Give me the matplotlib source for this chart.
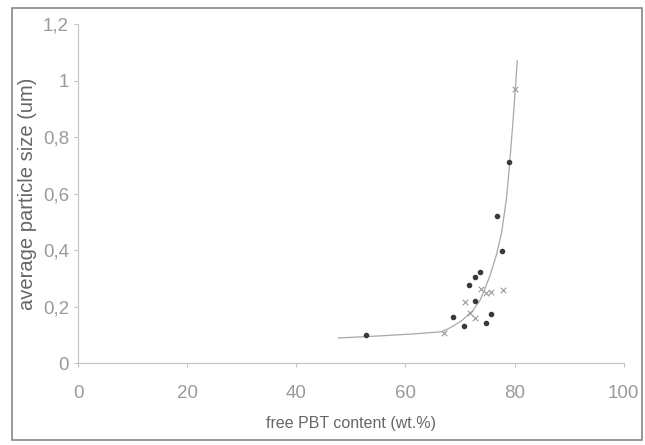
import numpy as np
import matplotlib.pyplot as plt
from matplotlib.patches import Rectangle
from matplotlib.ticker import FuncFormatter

plt.rcParams['font.family'] = ['Liberation Sans', 'DejaVu Sans']

# filled dots
dot_x = [52.7, 68.8, 70.8, 71.7, 72.8, 73.7, 72.8, 75.7, 74.8, 77.7, 76.8, 79.0]
dot_y = [0.099, 0.163, 0.131, 0.276, 0.304, 0.322, 0.219, 0.173, 0.142, 0.396, 0.52, 0.71]

# crosses
cross_x = [67.0, 71.0, 71.9, 72.8, 73.9, 74.8, 75.7, 77.9, 80.1]
cross_y = [0.106, 0.216, 0.177, 0.159, 0.262, 0.248, 0.251, 0.258, 0.97]

# fitted curve
curve_x = [47.7, 55, 62, 66.7, 68.2, 70.3, 72.3, 73.6, 74.4, 75.5, 76.7, 77.6, 78.5, 79.0, 79.6, 80.1, 80.5]
curve_y = [0.089, 0.096, 0.104, 0.111, 0.125, 0.150, 0.185, 0.22, 0.255, 0.31, 0.385, 0.46, 0.58, 0.685, 0.83, 0.96, 1.07]

fig = plt.figure(figsize=(6.45, 4.45), dpi=100)
ax = fig.add_axes([0.121, 0.184, 0.846, 0.762])

ax.plot(curve_x, curve_y, color='#a8a8a8', lw=0.9, zorder=1)
ax.scatter(dot_x, dot_y, s=9, color='#3a3a3a', zorder=3)
ax.scatter(cross_x, cross_y, s=16, marker='x', color='#999999', linewidths=0.8, zorder=2)

ax.set_xlim(0, 100)
ax.set_ylim(0, 1.2)
ax.set_xticks([0, 20, 40, 60, 80, 100])
ax.set_yticks([0, 0.2, 0.4, 0.6, 0.8, 1.0, 1.2])
ax.yaxis.set_major_formatter(FuncFormatter(lambda v, p: ('%g' % round(v, 1)).replace('.', ',')))

for s in ['top', 'right']:
    ax.spines[s].set_visible(False)
for s in ['left', 'bottom']:
    ax.spines[s].set_color('#c4c4c4')
    ax.spines[s].set_linewidth(0.8)
ax.tick_params(colors='#c4c4c4', labelcolor='#9a9a9a', labelsize=13.5, length=3, width=0.8)
ax.tick_params(axis='x', pad=13)

ax.set_xlabel('free PBT content (wt.%)', fontsize=11.5, color='#666666', labelpad=10)
ax.set_ylabel('average particle size (um)', fontsize=14.5, color='#666666', labelpad=4)

fig.patches.append(Rectangle((12 / 645, 5 / 445), 630 / 645, 432 / 445, transform=fig.transFigure,
                             fill=False, edgecolor='#888888', lw=1.2))

fig.savefig('out.png', dpi=100)
